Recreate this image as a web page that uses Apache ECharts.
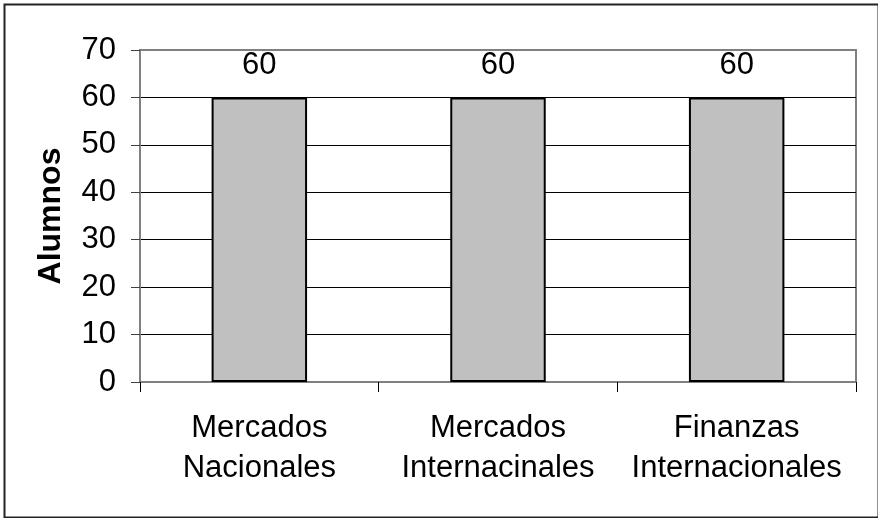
<!DOCTYPE html>
<html>
<head>
<meta charset="utf-8">
<script src="https://cdn.jsdelivr.net/npm/echarts@6/dist/echarts.min.js"></script>
<style>html,body{margin:0;padding:0;background:#fff}#c{width:878px;height:518px}</style>
</head>
<body>
<div id="c"></div>
<script>
const categories = ['Mercados\nNacionales', 'Mercados\nInternacinales', 'Finanzas\nInternacionales'];
const alumnos = [60, 60, 60];
const yName = 'Alumnos';

const chart = echarts.init(document.getElementById('c'), null, {renderer: 'canvas'});
chart.setOption({
  animation: false,
  backgroundColor: '#fff',
  textStyle: {fontFamily: 'Liberation Sans, Arial, sans-serif'},
  graphic: [{
    type: 'rect', left: 2, top: 2, z: 100, silent: true,
    shape: {width: 874, height: 513},
    style: {fill: 'none', stroke: '#222', lineWidth: 2}
  }],
  grid: {left: 140, right: 22, top: 50, bottom: 136, show: true, borderColor: '#808080', borderWidth: 2, backgroundColor: 'transparent'},
  xAxis: {
    type: 'category',
    data: categories,
    axisLine: {lineStyle: {color: '#808080', width: 2}},
    axisTick: {show: true, length: 10, lineStyle: {color: '#000', width: 1}},
    axisLabel: {interval: 0, hideOverlap: false, color: '#000', fontSize: 31, lineHeight: 40, margin: 26, fontFamily: 'Liberation Sans, Arial, sans-serif'}
  },
  yAxis: {
    type: 'value',
    min: 0, max: 70, interval: 10,
    name: yName,
    nameLocation: 'middle',
    nameGap: 73,
    nameTextStyle: {color: '#000', fontSize: 32, fontWeight: 'bold', fontFamily: 'Liberation Sans, Arial, sans-serif'},
    axisLine: {show: true, lineStyle: {color: '#808080', width: 2}},
    axisTick: {show: true, length: 9, lineStyle: {color: '#404040', width: 1}},
    axisLabel: {color: '#000', fontSize: 31, margin: 24, fontFamily: 'Liberation Sans, Arial, sans-serif'},
    splitLine: {show: true, lineStyle: {color: ['#808080', '#000', '#000', '#000', '#000', '#000', '#000', '#808080'], width: 1}}
  },
  series: [{
    type: 'bar',
    data: alumnos,
    barWidth: '40%',
    itemStyle: {color: '#C0C0C0', borderColor: '#000', borderWidth: 2},
    label: {show: true, position: 'top', distance: 16, color: '#000', fontSize: 31, fontFamily: 'Liberation Sans, Arial, sans-serif'}
  }]
});
</script>
</body>
</html>
